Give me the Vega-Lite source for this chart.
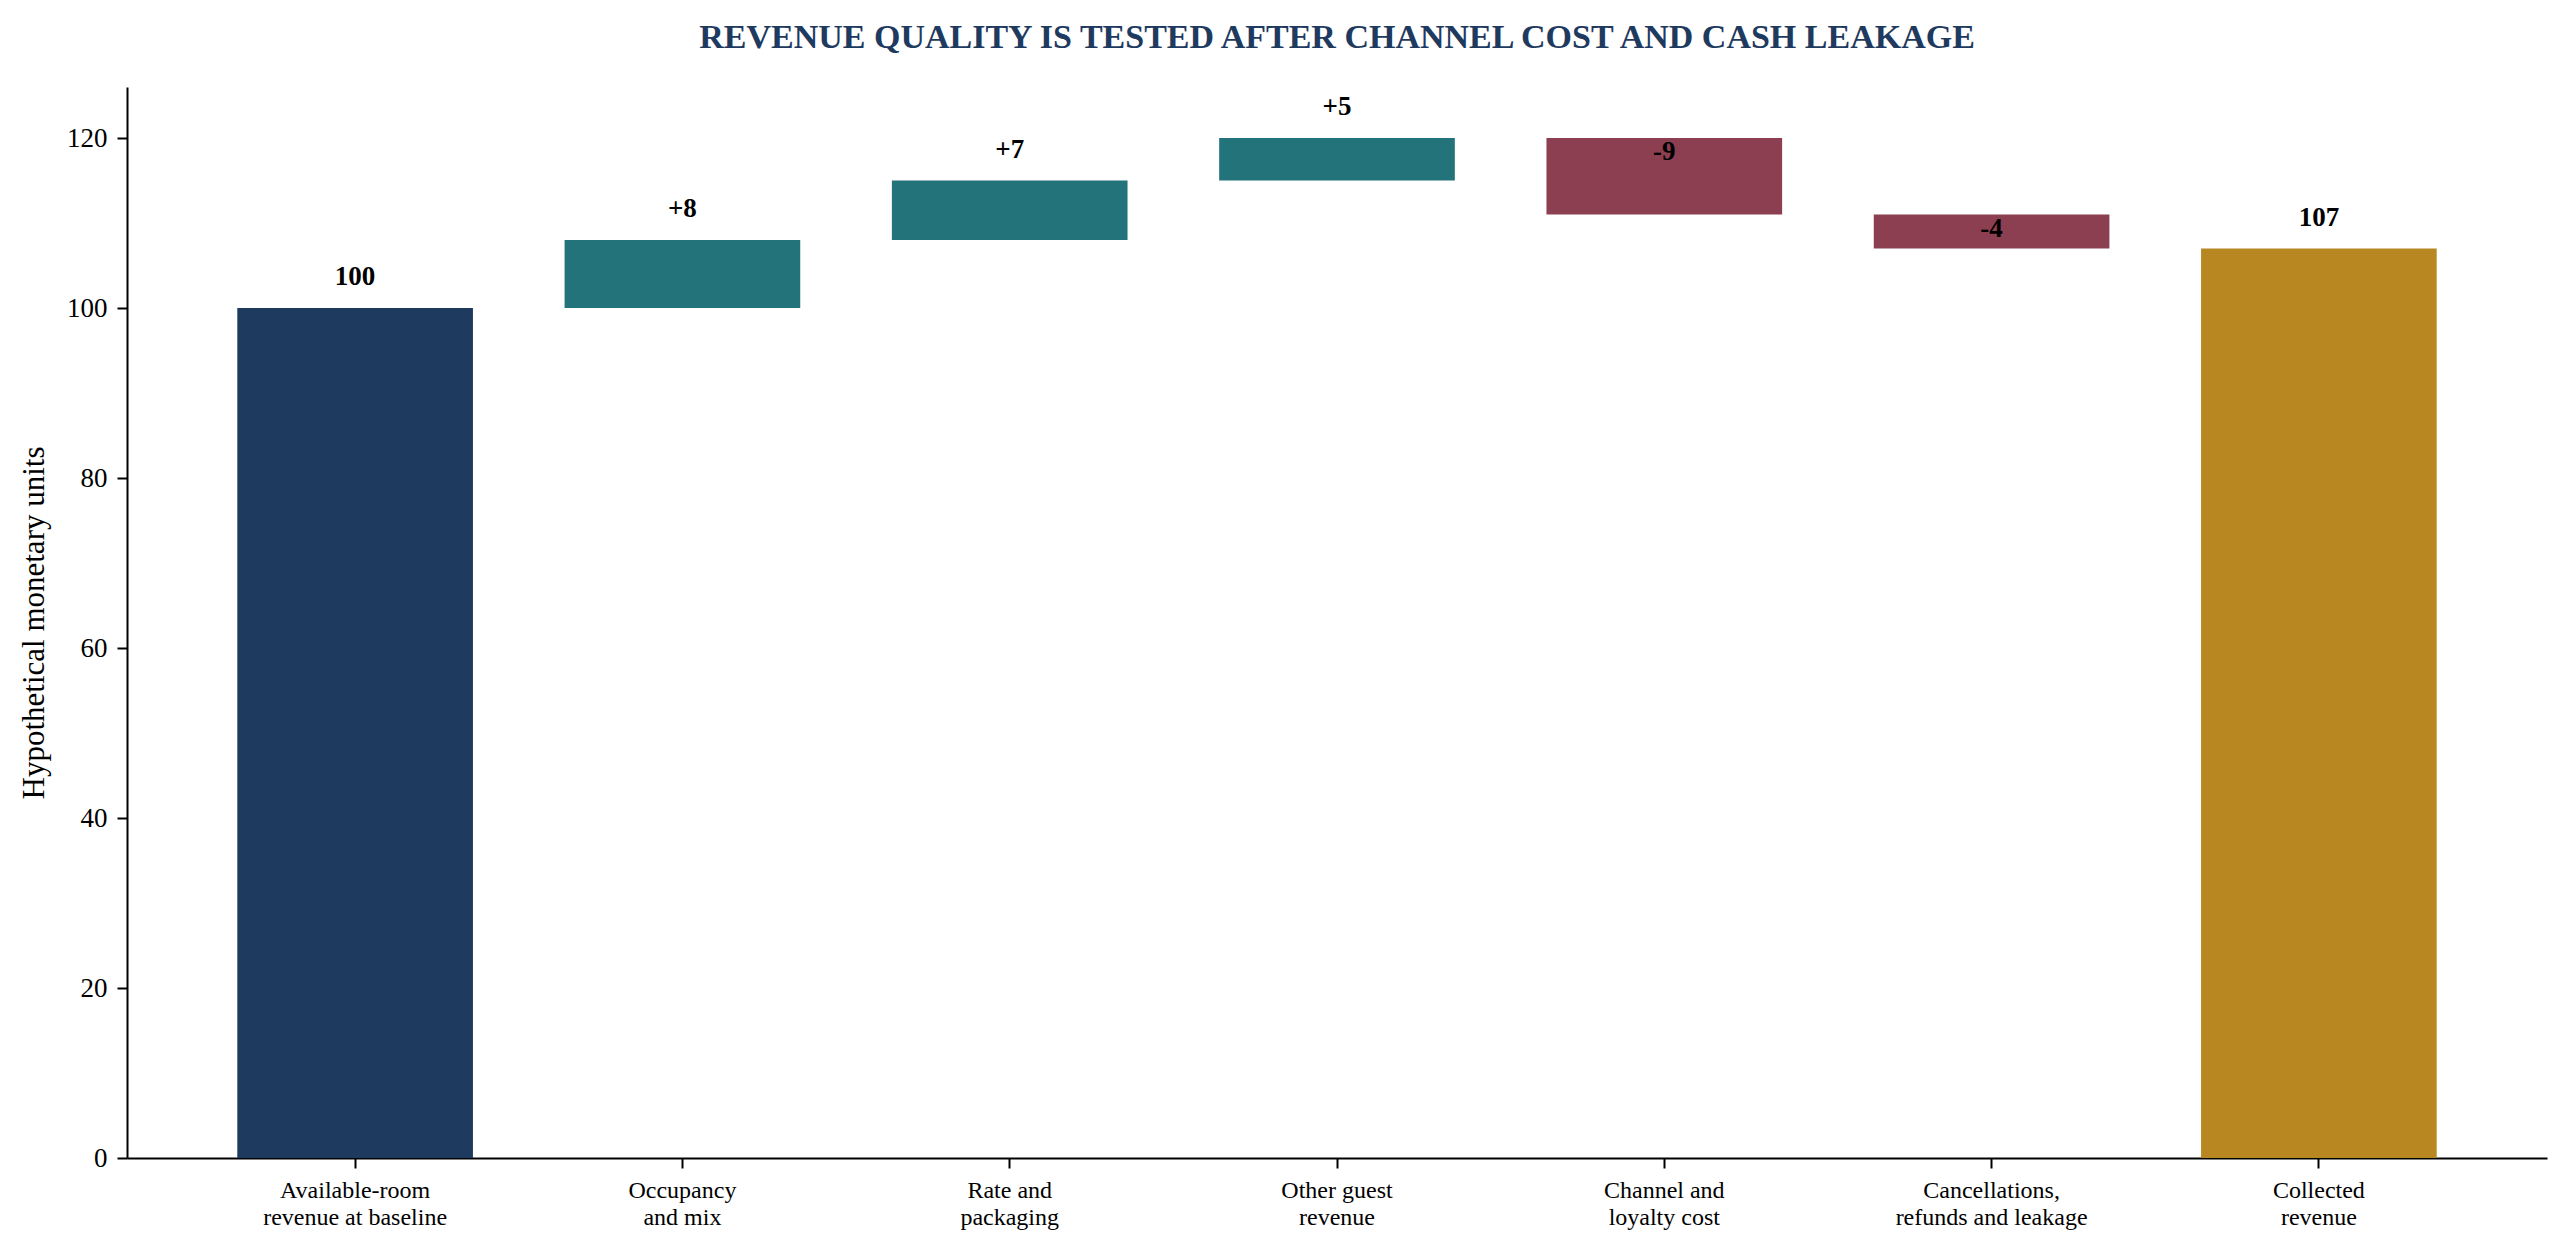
{
  "$schema": "https://vega.github.io/schema/vega-lite/v6.json",
  "width": 2420,
  "height": 1071,
  "autosize": {"type": "none"},
  "padding": {"left": 127, "top": 87, "right": 23, "bottom": 95},
  "background": "white",
  "title": {
    "text": "REVENUE QUALITY IS TESTED AFTER CHANNEL COST AND CASH LEAKAGE",
    "font": "Liberation Serif",
    "fontSize": 34,
    "fontWeight": "bold",
    "color": "#1f3a5f",
    "anchor": "middle",
    "baseline": "alphabetic",
    "offset": 5
  },
  "data": {
    "values": [
      {"step": "Available-room\nrevenue at baseline", "start": 0, "end": 100, "value": 100, "kind": "start"},
      {"step": "Occupancy\nand mix", "start": 100, "end": 108, "value": 8, "kind": "gain"},
      {"step": "Rate and\npackaging", "start": 108, "end": 115, "value": 7, "kind": "gain"},
      {"step": "Other guest\nrevenue", "start": 115, "end": 120, "value": 5, "kind": "gain"},
      {"step": "Channel and\nloyalty cost", "start": 120, "end": 111, "value": -9, "kind": "loss"},
      {"step": "Cancellations,\nrefunds and leakage", "start": 111, "end": 107, "value": -4, "kind": "loss"},
      {"step": "Collected\nrevenue", "start": 0, "end": 107, "value": 107, "kind": "end"}
    ]
  },
  "transform": [
    {
      "calculate": "datum.kind == 'gain' ? '+' + datum.value : '' + datum.value",
      "as": "label"
    }
  ],
  "encoding": {
    "x": {
      "field": "step",
      "type": "nominal",
      "sort": null,
      "scale": {"paddingInner": 0.28, "paddingOuter": 0.337},
      "axis": {
        "title": null,
        "labelAngle": 0,
        "labelExpr": "split(datum.label, '\\n')",
        "labelFont": "Liberation Serif",
        "labelFontSize": 24,
        "labelLineHeight": 27,
        "labelLimit": 500,
        "labelColor": "black",
        "labelPadding": 10,
        "labelBaseline": "top",
        "tickSize": 10,
        "tickWidth": 2,
        "tickColor": "black",
        "domainColor": "black",
        "domainWidth": 2
      }
    }
  },
  "layer": [
    {
      "mark": {"type": "bar", "cornerRadius": 0},
      "encoding": {
        "y": {
          "field": "start",
          "type": "quantitative",
          "scale": {"domain": [0, 126], "nice": false, "zero": true},
          "axis": {
            "title": "Hypothetical monetary units",
            "titleFont": "Liberation Serif",
            "titleFontSize": 31,
            "titleFontWeight": "normal",
            "titleColor": "black",
            "titlePadding": 16,
            "values": [0, 20, 40, 60, 80, 100, 120],
            "grid": false,
            "labelFont": "Liberation Serif",
            "labelFontSize": 27,
            "labelColor": "black",
            "labelPadding": 10,
            "tickSize": 10,
            "tickWidth": 2,
            "tickColor": "black",
            "domainColor": "black",
            "domainWidth": 2
          }
        },
        "y2": {"field": "end"},
        "color": {
          "field": "kind",
          "type": "nominal",
          "scale": {
            "domain": ["start", "gain", "loss", "end"],
            "range": ["#1f3a5f", "#23737a", "#8b3f51", "#b88721"]
          },
          "legend": null
        }
      }
    },
    {
      "transform": [{"filter": "datum.value > 0"}],
      "mark": {
        "type": "text",
        "font": "Liberation Serif",
        "fontSize": 27,
        "fontWeight": "bold",
        "color": "black",
        "baseline": "alphabetic",
        "dy": -23
      },
      "encoding": {
        "y": {"field": "end", "type": "quantitative"},
        "text": {"field": "label"}
      }
    },
    {
      "transform": [{"filter": "datum.value < 0"}],
      "mark": {
        "type": "text",
        "font": "Liberation Serif",
        "fontSize": 27,
        "fontWeight": "bold",
        "color": "black",
        "baseline": "top",
        "dy": 1
      },
      "encoding": {
        "y": {"field": "start", "type": "quantitative"},
        "text": {"field": "label"}
      }
    }
  ],
  "config": {
    "view": {"stroke": null},
    "axis": {"grid": false}
  }
}
